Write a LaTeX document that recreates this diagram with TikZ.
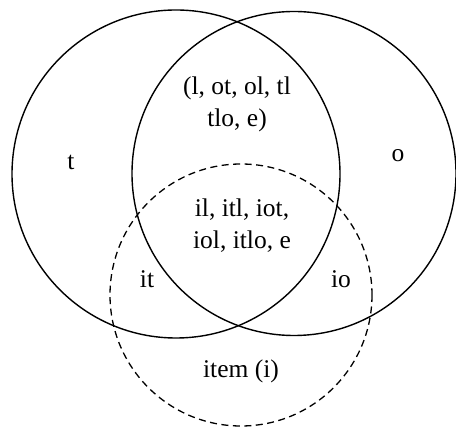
\documentclass[tikz,border=0pt]{standalone}
\usepackage{fontspec}
\setmainfont{Liberation Serif}
\begin{document}
\begin{tikzpicture}[x=1pt,y=-1pt,
  solidset/.style={draw, line width=1.4pt},
  dashset/.style={draw, line width=1.3pt, dash pattern=on 7pt off 4.5pt},
  lbl/.style={font=\fontsize{25.5}{32}\selectfont, inner sep=0pt, align=center}]
\useasboundingbox (0,0) rectangle (456,427);
\coordinate (cl) at (176,174);
\coordinate (cr) at (294,173.5);
\coordinate (ci) at (241,295);
\draw[solidset] (cl) circle[radius=164];
\draw[solidset] (cr) circle[radius=162];
\draw[dashset] (ci) circle[radius=131];
\node[lbl] (top) at (237,104) {(l, ot, ol, tl\\tlo, e)};
\node[lbl] (t) at (71,162) {t};
\node[lbl] (o) at (398,156) {o};
\node[lbl] (mid) at (242,226) {il, itl, iot,\\iol, itlo, e};
\node[lbl] (it) at (147,279) {it};
\node[lbl] (io) at (341,279) {io};
\node[lbl] (item) at (241,371) {item (i)};
\end{tikzpicture}
\end{document}
